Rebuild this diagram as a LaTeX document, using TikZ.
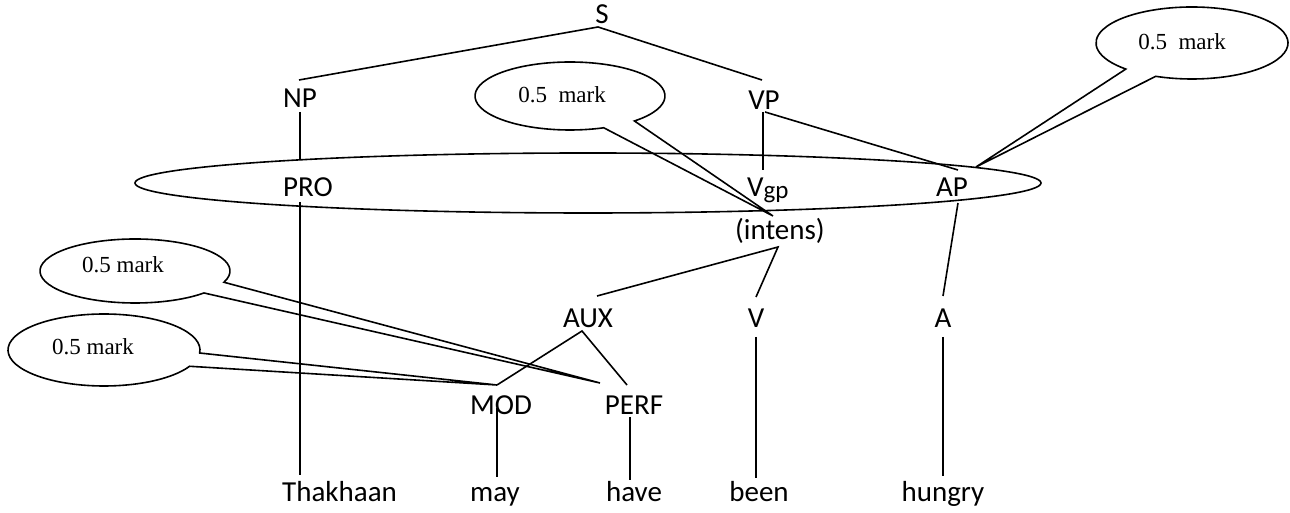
\documentclass[tikz,border=0pt]{standalone}
\usepackage{fontspec}
\setmainfont{Carlito}
\newfontfamily\markfont{Liberation Serif}
\usetikzlibrary{shapes.geometric}
\begin{document}
\begin{tikzpicture}[x=1pt,y=1pt,
  lbl/.style={inner sep=0pt, font=\fontsize{29}{29}\selectfont, anchor=base},
  marktext/.style={inner sep=0pt, font=\markfont\fontsize{23}{23}\selectfont, anchor=base},
  edge/.style={line width=1.6pt},
  bubble/.style={line width=1.6pt}]
\useasboundingbox (0,0) rectangle (1290,513);

% category labels
\node[lbl] (S)    at (602,489) {S};
\node[lbl] (NP)   at (300,405) {NP};
\node[lbl] (VP)   at (764,403) {VP};
\node[lbl] (PRO)  at (308,316) {PRO};
\node[lbl, anchor=base west] (Vgp) at (747,316) {V\raisebox{-2pt}{\fontsize{25}{25}\selectfont gp}};
\node[lbl] (AP)   at (952,316) {AP};
\node[lbl] (INT)  at (780,273) {(intens)};
\node[lbl] (AUX)  at (588,185) {AUX};
\node[lbl] (V)    at (756,185) {V};
\node[lbl] (A)    at (943,185) {A};
\node[lbl] (MOD)  at (501,98)  {MOD};
\node[lbl] (PERF) at (634,98)  {PERF};

% words
\node[lbl, anchor=base west] (w1) at (282,11) {Thakhaan};
\node[lbl] (w2) at (495,11) {may};
\node[lbl] (w3) at (634,11) {have};
\node[lbl] (w4) at (759,11) {been};
\node[lbl] (w5) at (943,11) {hungry};

% ellipse grouping the middle row
\node[draw, ellipse, line width=1.6pt, inner sep=0pt,
      minimum width=906pt, minimum height=60pt] (grp) at (588,330) {};

% branch end points
\coordinate (sT)    at (598,486);
\coordinate (npT)   at (299,433);
\coordinate (vpT)   at (762,433);
\coordinate (npB)   at (300,401);
\coordinate (proT)  at (300,353);
\coordinate (proB)  at (300,311);
\coordinate (thT)   at (300,38);
\coordinate (vpB)   at (763,401);
\coordinate (vgpT)  at (763,343);
\coordinate (vpR)   at (765,401);
\coordinate (apT)   at (958,343);
\coordinate (apB)   at (958,310);
\coordinate (aT)    at (943,217);
\coordinate (aB)    at (943,176);
\coordinate (huT)   at (943,37);
\coordinate (inB)   at (778,266);
\coordinate (auxT)  at (597,217);
\coordinate (vT)    at (756,216);
\coordinate (vB)    at (756,176);
\coordinate (beT)   at (756,35);
\coordinate (auxB)  at (582,182);
\coordinate (modT)  at (497,128);
\coordinate (perfT) at (627,128);
\coordinate (modB)  at (497,105);
\coordinate (mayT)  at (497,36);
\coordinate (perfB) at (630,96);
\coordinate (haveT) at (630,33);

% tree branches
\draw[edge] (npT) -- (sT) -- (vpT);
\draw[edge] (npB) -- (proT);
\draw[edge] (proB) -- (thT);
\draw[edge] (vpB) -- (vgpT);
\draw[edge] (vpR) -- (apT);
\draw[edge] (apB) -- (aT);
\draw[edge] (aB) -- (huT);
\draw[edge] (auxT) -- (inB) -- (vT);
\draw[edge] (vB) -- (beT);
\draw[edge] (modT) -- (auxB) -- (perfT);
\draw[edge] (modB) -- (mayT);
\draw[edge] (perfB) -- (haveT);

% callout tips
\coordinate (tipM)  at (773,297);
\coordinate (tipR)  at (976,346);
\coordinate (tipUL) at (600,130);
\coordinate (tipLL) at (497,128);

% callout bubbles
\draw[bubble] (570,417) ++(-47.3:95pt and 34pt)
  arc[start angle=-47.3, end angle=290.8, x radius=95pt, y radius=34pt] -- (tipM) -- cycle;
\draw[bubble] (1192,470) ++(247.8:96pt and 36pt)
  arc[start angle=247.8, end angle=586.4, x radius=96pt, y radius=36pt] -- (tipR) -- cycle;
\draw[bubble] (135,242) ++(-20.6:95pt and 32pt)
  arc[start angle=-20.6, end angle=316.6, x radius=95pt, y radius=32pt] -- (tipUL) -- cycle;
\draw[bubble] (104,163) ++(-4.8:96pt and 36pt)
  arc[start angle=-4.8, end angle=333.1, x radius=96pt, y radius=36pt] -- (tipLL) -- cycle;

\node[marktext] (mM)  at (562,410)  {0.5\ \ mark};
\node[marktext] (mR)  at (1182,463) {0.5\ \ mark};
\node[marktext] (mUL) at (123,240)  {0.5 mark};
\node[marktext] (mLL) at (93,158)   {0.5 mark};
\end{tikzpicture}
\end{document}
